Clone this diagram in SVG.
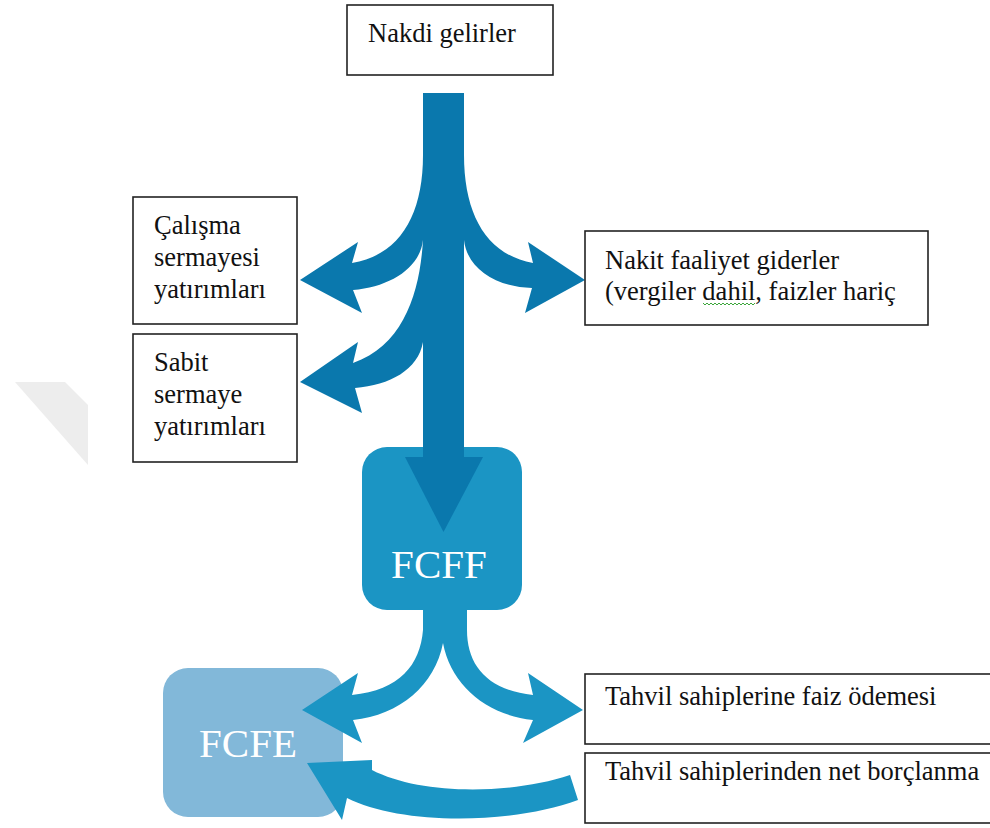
<svg xmlns="http://www.w3.org/2000/svg" width="990" height="828" viewBox="0 0 990 828">
<style>
.box{fill:#fff;stroke:#222;stroke-width:1.6}
.t{font-family:'Liberation Serif','DejaVu Serif',serif;font-size:26.5px;fill:#111}
.big{font-family:'Liberation Serif','DejaVu Serif',serif;font-size:41px;fill:#fff;text-anchor:middle}
.dark{fill:#0a78ad}
.light{fill:#1b95c4}
</style>
<rect width="990" height="828" fill="#fff"/>
<polygon points="15,382 65,382 88,405 88,465" fill="#ededed"/>

<g id="fcfe">
<rect x="163" y="668" width="180" height="149" rx="25" fill="#82b8d9"/>
<text class="big" x="248" y="757">FCFE</text>
</g>
<g id="fcff">
<rect x="362" y="447" width="160" height="163" rx="25" class="light"/>
<text class="big" x="439" y="578">FCFF</text>
</g>

<g id="connectors">
<rect class="dark" x="423" y="93" width="41" height="366"/>
<polygon class="dark" points="405,457 483,457 443.5,532"/>
<path class="dark" d="M423 155 C423 215 400 255 352 263 L358 242 L300 280 L362 313 L353 290 C390 287 420 268 423 240 Z"/>
<path class="dark" d="M464 155 C464 215 487 255 533 263 L528 242 L585 280 L525 313 L532 288 C495 287 467 268 464 240 Z"/>
<path class="dark" d="M423 240 C420 290 405 345 353 363 L358 342 L300 382 L362 413 L355 388 C390 385 418 370 423 342 Z"/>
<path class="light" d="M423 605 L423 630 C420 665 400 690 352 695 L358 673 L302 710 L362 743 L353 720 C400 715 435 685 443 643 C451 685 486 715 533 720 L523 743 L583 710 L528 673 L533 695 C487 690 467 665 467 630 L467 605 Z"/>
<path class="light" d="M570 775 C510 795 420 795 372 770 L372 760 L307 763 L342 820 L347 798 C400 825 510 825 578 800 Z"/>
</g>

<g id="nakdi">
<rect class="box" x="347" y="5" width="206" height="70"/>
<text class="t" x="368" y="42">Nakdi gelirler</text>
</g>
<g id="calisma">
<rect class="box" x="133" y="197" width="164" height="127"/>
<text class="t" x="154" y="234">Çalışma</text>
<text class="t" x="154" y="266">sermayesi</text>
<text class="t" x="154" y="298">yatırımları</text>
</g>
<g id="sabit">
<rect class="box" x="133" y="334" width="164" height="128"/>
<text class="t" x="154" y="371">Sabit</text>
<text class="t" x="154" y="403">sermaye</text>
<text class="t" x="154" y="435">yatırımları</text>
</g>
<g id="nakit">
<rect class="box" x="585" y="231" width="343" height="94"/>
<text class="t" x="605" y="269">Nakit faaliyet giderler</text>
<text class="t" x="605" y="300">(vergiler dahil, faizler hariç</text>
<path d="M703 303 l2 2 l2 -2 l2 2 l2 -2 l2 2 l2 -2 l2 2 l2 -2 l2 2 l2 -2 l2 2 l2 -2 l2 2 l2 -2 l2 2 l2 -2 l2 2 l2 -2 l2 2 l2 -2 l2 2 l2 -2 l2 2 l2 -2 l2 2 l2 -2" fill="none" stroke="#3aa63a" stroke-width="1"/>
</g>
<g id="faiz">
<rect class="box" x="585" y="674" width="410" height="70"/>
<text class="t" x="605" y="705">Tahvil sahiplerine faiz ödemesi</text>
</g>
<g id="borc">
<rect class="box" x="585" y="753" width="410" height="70"/>
<text class="t" x="605" y="780">Tahvil sahiplerinden net borçlanma</text>
</g>
</svg>
